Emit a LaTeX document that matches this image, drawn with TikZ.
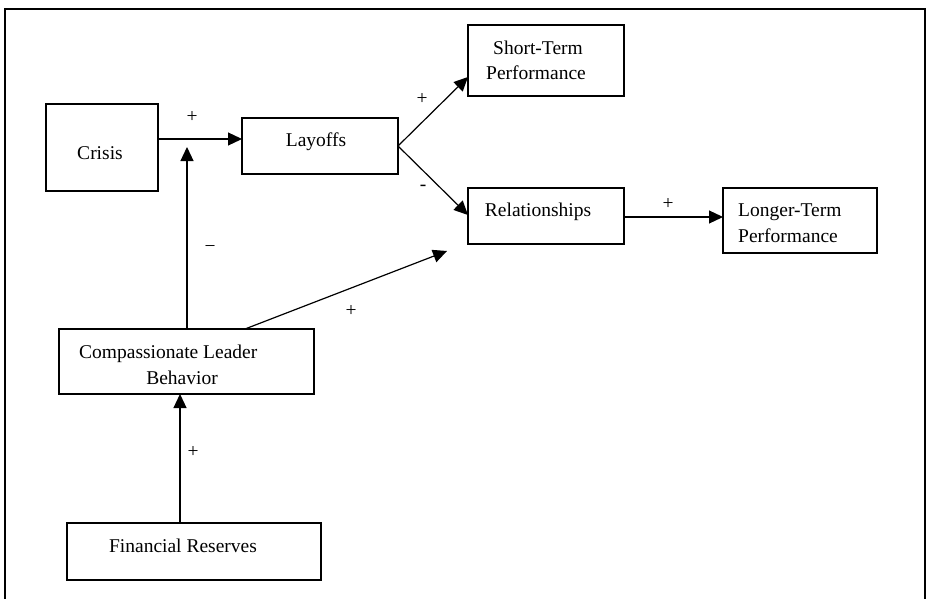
\documentclass[tikz,border=0pt]{standalone}
\usepackage{fontspec}
\setmainfont{Liberation Serif}
\usetikzlibrary{arrows.meta}
\begin{document}
\begin{tikzpicture}[x=1pt,y=-1pt,
  box/.style={draw,line width=1.1pt,minimum width=#1,inner sep=0pt,outer sep=0pt},
  txt/.style={font=\fontsize{19.5}{24}\selectfont,inner sep=0pt,anchor=base},
  lbl/.style={font=\fontsize{19.5}{24}\selectfont,inner sep=0pt,anchor=center},
  arr/.style={line width=1.2pt,-{Triangle[length=14pt,width=13pt]}}]
\useasboundingbox (0,0) rectangle (926,599);
% frame
\draw[line width=1.2pt] (5,620) -- (5,9) -- (925,9) -- (925,620);
% boxes
\node[box=112pt,minimum height=87pt] (crisis) at (102,147.5) {};
\node[box=156pt,minimum height=56pt] (layoffs) at (320,146) {};
\node[box=156pt,minimum height=71pt] (short) at (546,60.5) {};
\node[box=156pt,minimum height=56pt] (rel) at (546,216) {};
\node[box=154pt,minimum height=65pt] (longer) at (800,220.5) {};
\node[box=255pt,minimum height=65pt] (clb) at (186.5,361.5) {};
\node[box=254pt,minimum height=57pt] (fin) at (194,551.5) {};
% texts
\node[txt] (crisisT) at (100,159.3) {Crisis};
\node[txt] (layoffsT) at (316,146.7) {Layoffs};
\node[txt] (shortT1) at (538,55) {Short-Term};
\node[txt] (shortT2) at (536,80) {Performance};
\node[txt] (relT) at (538,216.7) {Relationships};
\node[txt,anchor=base west] (longerT1) at (738,216.7) {Longer-Term};
\node[txt,anchor=base west] (longerT2) at (738,242.7) {Performance};
\node[txt,anchor=base west] (clbT1) at (79,358.3) {Compassionate Leader};
\node[txt] (clbT2) at (182,384.3) {Behavior};
\node[txt] (finT) at (183,552.3) {Financial Reserves};
% helper coordinates
\coordinate (lin) at ([yshift=7pt]layoffs.west);
\coordinate (join) at (187,147);
\coordinate (stip) at ([yshift=-16.5pt]short.west);
\coordinate (clbout) at (245,329);
\coordinate (reltip) at (447,251);
\coordinate (fx) at (180,0);
% connectors
\draw[arr] (crisis.east |- lin) -- (lin);
\draw[arr] (clb.north -| join) -- (join);
\draw[arr] (layoffs.east) -- (stip);
\draw[arr] (layoffs.east) -- ([yshift=1pt]rel.west);
\draw[arr] ([yshift=-1pt]rel.east) -- ([yshift=-1pt]rel.east -| longer.west);
\draw[arr] (clbout) -- (reltip);
\draw[arr] (fin.north -| fx) -- (clb.south -| fx);
% labels
\node[lbl] (l1) at (192,117) {+};
\node[lbl] (l2) at (210,249) {−};
\node[lbl] (l3) at (422,99) {+};
\node[lbl] (l4) at (423,188) {-};
\node[lbl] (l5) at (668,204) {+};
\node[lbl] (l6) at (351,311) {+};
\node[lbl] (l7) at (193,452) {+};
\end{tikzpicture}
\end{document}
